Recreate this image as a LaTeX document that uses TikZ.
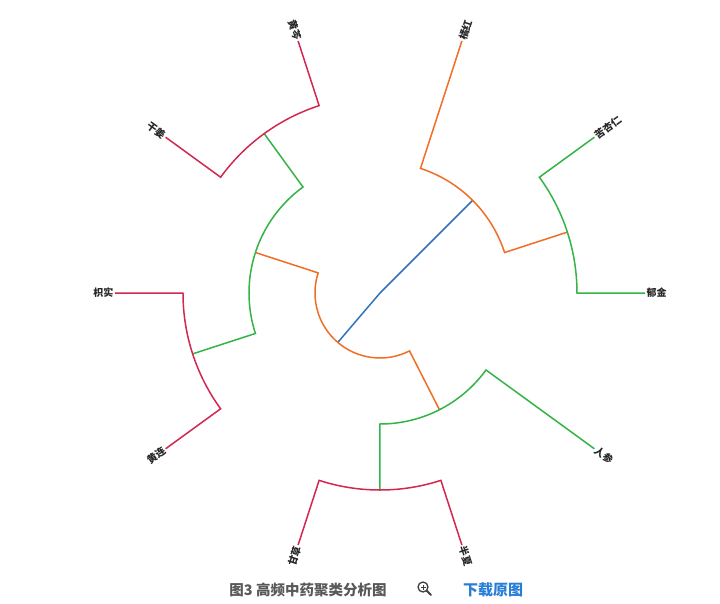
\documentclass[tikz,border=0pt]{standalone}
\usepackage{fontspec}
\usetikzlibrary{calc}
\newfontfamily\cjk{Noto Sans CJK SC}
\definecolor{cblue}{RGB}{50,115,190}
\definecolor{corange}{RGB}{240,110,40}
\definecolor{cgreen}{RGB}{50,180,70}
\definecolor{cred}{RGB}{210,40,80}
\definecolor{linkblue}{RGB}{40,125,215}
\begin{document}
\begin{tikzpicture}[x=1pt,y=1pt,
  lk/.style={line width=1.5pt},
  lbl/.style={font=\cjk\bfseries\fontsize{10}{10}\selectfont, text=black!85, inner sep=1.5pt}]
\useasboundingbox[fill=white] (-380,-310) rectangle (340,293);
% internal nodes
\coordinate (root) at (0,0);
\coordinate (A) at (229.5:65);
\coordinate (B) at (45:131);
\coordinate (C) at (18:197);
\coordinate (D) at (162:131);
\coordinate (G) at (297:131);
\coordinate (E) at (126:197);
\coordinate (F) at (198:197);
\coordinate (H) at (270:197);
% leaves
\foreach \a in {0,36,72,108,144,180,216,252,288,324}{\coordinate (l\a) at (\a:265);}
% links
\draw[lk,cblue] (root) -- (A);
\draw[lk,cblue] (root) -- (B);
\draw[lk,corange] (A) arc[start angle=229.5,end angle=162,radius=65] -- (D);
\draw[lk,corange] (A) arc[start angle=229.5,end angle=297,radius=65] -- (G);
\draw[lk,corange] (B) arc[start angle=45,end angle=72,radius=131] -- (l72);
\draw[lk,corange] (B) arc[start angle=45,end angle=18,radius=131] -- (C);
\draw[lk,cgreen] (C) arc[start angle=18,end angle=36,radius=197] -- (l36);
\draw[lk,cgreen] (C) arc[start angle=18,end angle=0,radius=197] -- (l0);
\draw[lk,cgreen] (D) arc[start angle=162,end angle=126,radius=131] -- (E);
\draw[lk,cgreen] (D) arc[start angle=162,end angle=198,radius=131] -- (F);
\draw[lk,cgreen] (G) arc[start angle=297,end angle=270,radius=131] -- (H);
\draw[lk,cgreen] (G) arc[start angle=297,end angle=324,radius=131] -- (l324);
\draw[lk,cred] (E) arc[start angle=126,end angle=108,radius=197] -- (l108);
\draw[lk,cred] (E) arc[start angle=126,end angle=144,radius=197] -- (l144);
\draw[lk,cred] (F) arc[start angle=198,end angle=180,radius=197] -- (l180);
\draw[lk,cred] (F) arc[start angle=198,end angle=216,radius=197] -- (l216);
\draw[lk,cred] (H) arc[start angle=270,end angle=252,radius=197] -- (l252);
\draw[lk,cred] (H) arc[start angle=270,end angle=288,radius=197] -- (l288);
% labels
\node[lbl,anchor=west,rotate=0] (t0) at (l0) {郁金};
\node[lbl,anchor=west,rotate=36] (t36) at (l36) {苦杏仁};
\node[lbl,anchor=west,rotate=72] (t72) at (l72) {橘红};
\node[lbl,anchor=east,rotate=-72] (t108) at (l108) {黄芩};
\node[lbl,anchor=east,rotate=-36] (t144) at (l144) {干姜};
\node[lbl,anchor=east,rotate=0] (t180) at (l180) {枳实};
\node[lbl,anchor=east,rotate=36] (t216) at (l216) {黄连};
\node[lbl,anchor=east,rotate=72] (t252) at (l252) {甘草};
\node[lbl,anchor=west,rotate=-72] (t288) at (l288) {半夏};
\node[lbl,anchor=west,rotate=-36] (t324) at (l324) {人参};
% caption
\node[font=\cjk\bfseries\fontsize{14.5}{14.5}\selectfont, text=black!65] (cap) at (-72,-297) {图3 高频中药聚类分析图};
\coordinate (mg) at (43,-294);
\draw[line width=1.3pt, black!75] (mg) circle (5);
\draw[line width=1pt, black!75] ($(mg)+(-2.5,0)$) -- ($(mg)+(2.5,0)$) ($(mg)+(0,-2.5)$) -- ($(mg)+(0,2.5)$);
\draw[line width=2pt, black!75, line cap=round] ($(mg)+(3.8,-3.8)$) -- ($(mg)+(8,-8)$);
\node[font=\cjk\bfseries\fontsize{15}{15}\selectfont, text=linkblue] (dl) at (113,-297) {下载原图};
\end{tikzpicture}
\end{document}
